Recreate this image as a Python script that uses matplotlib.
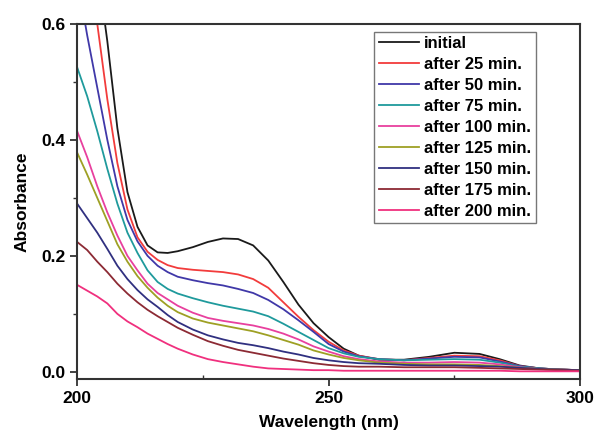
import matplotlib
matplotlib.use("Agg")
import matplotlib.pyplot as plt
from matplotlib.ticker import MultipleLocator, FormatStrFormatter

plt.rcParams['font.family'] = ['Liberation Sans', 'DejaVu Sans']
plt.rcParams['font.weight'] = 'bold'

# wavelength grid (nm)
wl = [200, 202, 204, 206, 208, 210, 212, 214, 216, 218, 220, 223, 226, 229, 232, 235, 238,
      241, 244, 247, 250, 253, 256, 260, 265, 270, 275, 280, 284, 288, 292, 296, 300]

initial = [0.95, 0.82, 0.70, 0.57, 0.42, 0.31, 0.25, 0.218, 0.206, 0.205, 0.208, 0.215, 0.224, 0.230, 0.229, 0.218, 0.192,
           0.155, 0.116, 0.084, 0.060, 0.040, 0.028, 0.021, 0.021, 0.026, 0.033, 0.031, 0.022, 0.011, 0.006, 0.004, 0.003]
t25 = [0.85, 0.72, 0.60, 0.47, 0.36, 0.28, 0.232, 0.207, 0.193, 0.184, 0.179, 0.176, 0.174, 0.172, 0.168, 0.160, 0.145,
       0.120, 0.095, 0.072, 0.052, 0.037, 0.028, 0.022, 0.020, 0.024, 0.028, 0.027, 0.020, 0.010, 0.006, 0.004, 0.003]
t50 = [0.68, 0.58, 0.49, 0.40, 0.32, 0.262, 0.225, 0.200, 0.183, 0.172, 0.164, 0.158, 0.153, 0.149, 0.143, 0.136, 0.124,
       0.108, 0.089, 0.069, 0.048, 0.035, 0.027, 0.022, 0.020, 0.023, 0.026, 0.025, 0.018, 0.010, 0.006, 0.004, 0.003]
t75 = [0.525, 0.475, 0.415, 0.35, 0.29, 0.24, 0.205, 0.175, 0.155, 0.143, 0.135, 0.127, 0.120, 0.114, 0.109, 0.104, 0.096,
       0.083, 0.069, 0.055, 0.041, 0.032, 0.026, 0.022, 0.020, 0.021, 0.022, 0.021, 0.016, 0.009, 0.006, 0.004, 0.003]
t100 = [0.415, 0.37, 0.32, 0.275, 0.235, 0.20, 0.175, 0.152, 0.136, 0.125, 0.114, 0.102, 0.093, 0.088, 0.084, 0.080, 0.074,
        0.066, 0.056, 0.044, 0.035, 0.027, 0.022, 0.018, 0.016, 0.016, 0.017, 0.016, 0.013, 0.008, 0.005, 0.004, 0.003]
t125 = [0.378, 0.34, 0.30, 0.26, 0.22, 0.19, 0.165, 0.145, 0.128, 0.114, 0.103, 0.092, 0.085, 0.080, 0.075, 0.070, 0.063,
        0.055, 0.047, 0.037, 0.030, 0.024, 0.020, 0.016, 0.014, 0.013, 0.013, 0.012, 0.010, 0.007, 0.005, 0.004, 0.003]
t150 = [0.29, 0.265, 0.24, 0.212, 0.183, 0.16, 0.141, 0.125, 0.112, 0.098, 0.086, 0.073, 0.063, 0.056, 0.050, 0.046, 0.041,
        0.035, 0.030, 0.024, 0.020, 0.017, 0.015, 0.014, 0.012, 0.011, 0.011, 0.010, 0.009, 0.007, 0.005, 0.004, 0.003]
t175 = [0.224, 0.21, 0.19, 0.172, 0.152, 0.135, 0.12, 0.107, 0.096, 0.086, 0.076, 0.064, 0.053, 0.045, 0.038, 0.033, 0.028,
        0.023, 0.019, 0.015, 0.012, 0.010, 0.009, 0.009, 0.008, 0.008, 0.008, 0.007, 0.006, 0.005, 0.004, 0.003, 0.002]
t200 = [0.15, 0.14, 0.13, 0.118, 0.10, 0.087, 0.077, 0.066, 0.057, 0.048, 0.040, 0.030, 0.022, 0.017, 0.013, 0.009, 0.006,
        0.005, 0.004, 0.003, 0.003, 0.002, 0.002, 0.002, 0.002, 0.002, 0.002, 0.002, 0.002, 0.001, 0.001, 0.001, 0.001]

series = [initial, t25, t50, t75, t100, t125, t150, t175, t200]
labels = ["initial", "after 25 min.", "after 50 min.", "after 75 min.", "after 100 min.",
          "after 125 min.", "after 150 min.", "after 175 min.", "after 200 min."]
colors = ["#1a1a1a", "#f23c3c", "#4038a8", "#1f9a9c", "#e8409e",
          "#9ea024", "#303080", "#8c2a34", "#f0307e"]

fig = plt.figure(figsize=(5.98, 4.32), dpi=100)
ax = fig.add_axes([0.129, 0.123, 0.841, 0.822])

for y, lab, c in zip(series, labels, colors):
    ax.plot(wl, y, color=c, lw=1.3, label=lab)

ax.set_xlim(200, 300)
ax.set_ylim(-0.012, 0.6)
ax.xaxis.set_major_locator(MultipleLocator(50))
ax.xaxis.set_minor_locator(MultipleLocator(25))
ax.yaxis.set_major_locator(MultipleLocator(0.2))
ax.yaxis.set_minor_locator(MultipleLocator(0.1))
ax.yaxis.set_major_formatter(FormatStrFormatter('%.1f'))
ax.tick_params(which='major', direction='out', length=5, width=1.3, labelsize=12.5, colors='#333333')
ax.tick_params(axis='y', which='minor', direction='out', length=3, width=1.0, colors='#333333')
ax.tick_params(axis='x', which='minor', direction='in', length=3, width=1.0, colors='#333333')
for lab in ax.get_xticklabels() + ax.get_yticklabels():
    lab.set_color('black')
    lab.set_fontweight('bold')
for s in ax.spines.values():
    s.set_linewidth(1.5)
    s.set_color('#333333')

ax.set_xlabel("Wavelength (nm)", fontsize=12.5, fontweight='bold', labelpad=7)
ax.set_ylabel("Absorbance", fontsize=12.5, fontweight='bold', labelpad=8)

leg = ax.legend(loc='upper left', bbox_to_anchor=(0.591, 0.978), fontsize=12,
                frameon=True, fancybox=False, handlelength=2.4, handletextpad=0.35,
                labelspacing=0.36, borderpad=0.25, borderaxespad=0)
leg.get_frame().set_edgecolor('#555555')
leg.get_frame().set_linewidth(1.0)
for t in leg.get_texts():
    t.set_fontweight('bold')

plt.savefig("out.png", dpi=100)
